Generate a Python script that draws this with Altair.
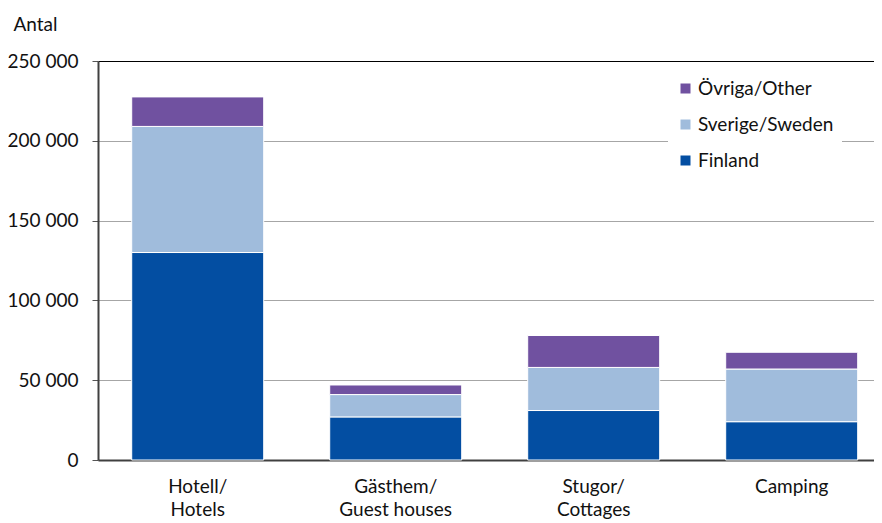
import altair as alt
import pandas as pd

categories = ["Hotell/|Hotels", "Gästhem/|Guest houses", "Stugor/|Cottages", "Camping"]
finland = [130000, 27000, 31000, 24000]
sverige = [79000, 14000, 27000, 33000]
ovriga = [18500, 6000, 20000, 10500]

series_names = ["Finland", "Sverige/Sweden", "Övriga/Other"]
series_values = [finland, sverige, ovriga]
series_colors = ["#034EA2", "#A0BCDC", "#7051A0"]

rows = []
for order, (name, vals) in enumerate(zip(series_names, series_values)):
    for cat, v in zip(categories, vals):
        rows.append({"cat": cat, "series": name, "value": v, "ord": order})
df = pd.DataFrame(rows)

FONT = "Lato"

chart = (
    alt.Chart(df)
    .mark_bar(stroke="white", strokeWidth=1)
    .encode(
        x=alt.X(
            "cat:N",
            sort=categories,
            scale=alt.Scale(paddingInner=0.3333, paddingOuter=0.1263, align=0.674),
            axis=alt.Axis(
                title=None,
                labelAngle=0,
                labelExpr="split(datum.label, '|')",
                labelFont=FONT,
                labelFontSize=19,
                labelColor="#111111",
                labelLineHeight=23,
                labelPadding=17,
                ticks=False,
                domainColor="#404040",
                domainWidth=2,
                grid=False,
            ),
        ),
        y=alt.Y(
            "value:Q",
            stack="zero",
            scale=alt.Scale(domain=[0, 250000], nice=False),
            axis=alt.Axis(
                title="Antal",
                titleAngle=0,
                titleAlign="left",
                titleBaseline="alphabetic",
                titleX=-85,
                titleY=-31,
                titleFont=FONT,
                titleFontSize=19,
                titleFontWeight="normal",
                titleColor="#111111",
                values=[0, 50000, 100000, 150000, 200000, 250000],
                labelExpr="replace(format(datum.value, ','), ',', ' ')",
                labelFont=FONT,
                labelFontSize=19,
                labelColor="#111111",
                labelPadding=14,
                tickSize=6,
                tickColor="#555555",
                domainColor="#404040",
                domainWidth=2,
                gridColor={"condition": {"test": "datum.value === 250000", "value": "#000000"}, "value": "#a6a6a6"},
                gridWidth=1.2,
            ),
        ),
        color=alt.Color(
            "series:N",
            scale=alt.Scale(domain=series_names[::-1], range=series_colors[::-1]),
            legend=alt.Legend(
                title=None,
                orient="none",
                legendX=570,
                legendY=10,
                fillColor="white",
                padding=8,
                symbolType="square",
                symbolSize=100,
                symbolStrokeWidth=0,
                labelFont=FONT,
                labelFontSize=19,
                labelColor="#111111",
                labelOffset=3,
                rowPadding=16,
            ),
        ),
        order=alt.Order("ord:Q", sort="ascending"),
    )
    .properties(
        width=776,
        height=399,
        autosize=alt.AutoSizeParams(type="none"),
        padding={"left": 90, "top": 53, "right": 0, "bottom": 63},
    )
    .configure_view(stroke=None)
)

chart.save("out.html", embed_options={"renderer": "svg", "actions": False})
